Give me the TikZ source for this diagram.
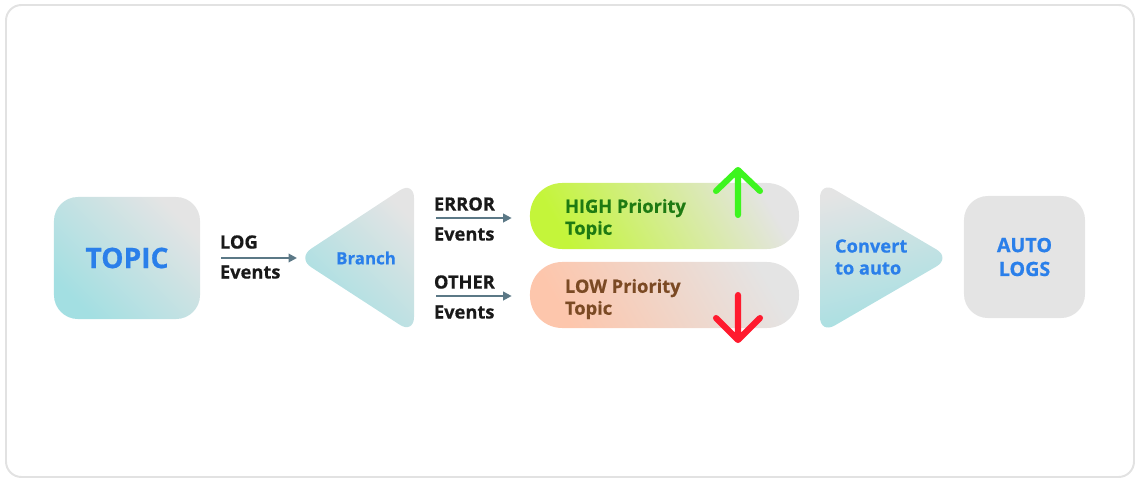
\documentclass[tikz,border=0pt]{standalone}
\usepackage{fontspec}
\setmainfont{Open Sans}[BoldFeatures={FakeBold=0.6}]
\usetikzlibrary{arrows.meta, positioning, calc}
\definecolor{TealLt}{HTML}{A3DFE2}
\definecolor{GrayLt}{HTML}{E4E4E4}
\definecolor{BlueTxt}{HTML}{2A7FEA}
\definecolor{Slate}{HTML}{5B7886}
\definecolor{LimeG}{HTML}{C4F53A}
\definecolor{Peach}{HTML}{FDC6AC}
\definecolor{GreenTxt}{HTML}{1E7A12}
\definecolor{BrownTxt}{HTML}{7B4A24}
\definecolor{UpGreen}{HTML}{3DF51E}
\definecolor{DownRed}{HTML}{FF1A2E}
\definecolor{FrameGray}{HTML}{E2E2E2}

\begin{document}
\begin{tikzpicture}[x=0.025cm, y=-0.025cm,
          bigbox/.style={rectangle, rounded corners=17pt,
                         minimum width=3.65cm, minimum height=3.05cm,
                         font=\fontsize{13}{17}\selectfont\bfseries,
                         text=BlueTxt, align=center},
          pill/.style={rectangle, rounded corners=23pt,
                       minimum width=6.725cm, minimum height=1.65cm},
          pilltext/.style={anchor=west, align=left,
                           font=\fontsize{13}{15.6}\selectfont\bfseries},
          evlabel/.style={anchor=west, align=left,
                          font=\fontsize{13}{21.3}\selectfont\bfseries,
                          text=black!90},
          flow/.style={-{Triangle[length=6pt, width=6pt]}, Slate,
                       line width=1.4pt},
          tipmark/.style={line width=4.3pt, line cap=round, line join=round}
        ]
        \useasboundingbox (0,0) rectangle (1140,481);
        \draw[FrameGray, line width=1.4pt, rounded corners=11pt]
              (6,5) rectangle (1134,477);

        % Topic
        \node[bigbox, top color=GrayLt, bottom color=TealLt, shading angle=-45,
              font=\fontsize{20}{24}\selectfont\bfseries]
              (topic) at (127,258) {TOPIC};

        % Branch
        \shade[top color=GrayLt, bottom color=TealLt, shading angle=-45,
               rounded corners=12pt]
              (414,181) -- (297,258) -- (414,334) -- cycle;
        \node[font=\fontsize{12}{14}\selectfont\bfseries, text=BlueTxt]
              (branch) at (366,258) {Branch};
        \coordinate (branchtip) at (306,258);

        \node[evlabel] (logev) at (215,257) {LOG\\Events};
        \coordinate (logout) at (221,258);
        \draw[flow, shorten >=0.225cm] (logout) -- (branchtip);

        % Priority topics
        \node[pill, left color=LimeG, right color=GrayLt, shading angle=120]
              (high) at (664.5,216) {};
        \node[pill, left color=Peach, right color=GrayLt, shading angle=120]
              (low) at (664.5,295) {};
        \node[pilltext, text=GreenTxt] (hightext) at (560,219)
              {HIGH Priority\\Topic};
        \node[pilltext, text=BrownTxt] (lowtext) at (560,299)
              {LOW Priority\\Topic};

        \node[evlabel] (errev) at (429,219) {ERROR\\Events};
        \node[evlabel] (othev) at (429,297) {OTHER\\Events};
        \coordinate (errout) at (436,218);
        \coordinate (othout) at (436,296);
        \draw[flow, shorten >=0.45cm] (errout) -- (errout -| high.west);
        \draw[flow, shorten >=0.45cm] (othout) -- (othout -| low.west);

        % up / down marks
        \draw[tipmark, UpGreen] (738,215) -- (738,170)
              (716,191) -- (738,170) -- (760,191);
        \draw[tipmark, DownRed] (738,295) -- (738,340)
              (716,318) -- (738,340) -- (760,318);

        % Convert
        \shade[top color=GrayLt, bottom color=TealLt, shading angle=15,
               rounded corners=12pt]
              (820,181) -- (951,258) -- (820,334) -- cycle;
        \node[anchor=west, align=left, text=BlueTxt,
              font=\fontsize{13}{15.6}\selectfont\bfseries]
              (convert) at (830,257) {Convert\\to auto};

        % Auto logs
        \node[bigbox, fill=GrayLt, minimum width=3.025cm,
              font=\fontsize{14}{17}\selectfont\bfseries]
              (autologs) at (1024.5,257) {AUTO\\LOGS};
      \end{tikzpicture}
\end{document}
